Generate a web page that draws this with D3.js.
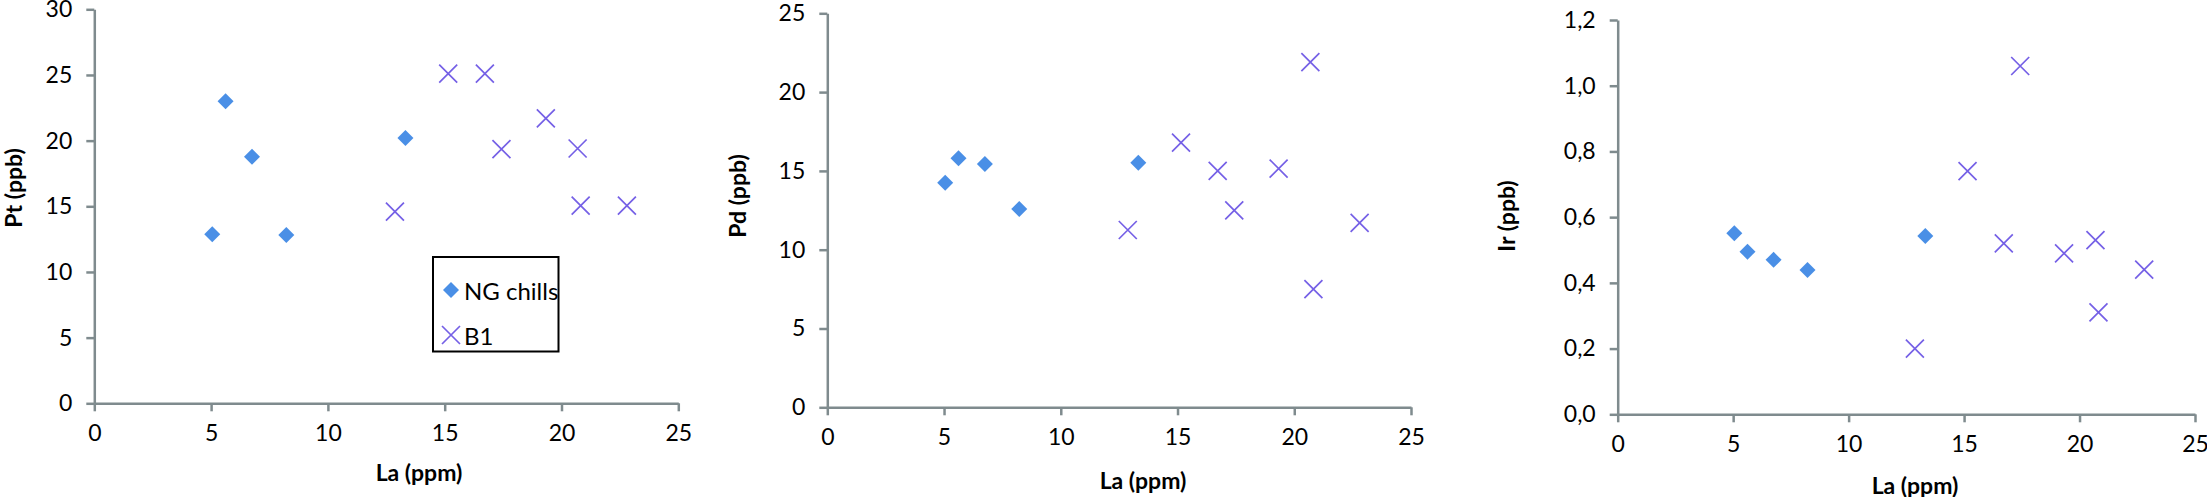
<!DOCTYPE html>
<html>
<head>
<meta charset="utf-8">
<script src="https://d3js.org/d3.v7.min.js"></script>
<style>
  body { margin: 0; background: #fff; }
  text { font-family: Lato, "Open Sans", sans-serif; fill: #000; }
</style>
</head>
<body>
<svg id="chart" width="2207" height="497"></svg>
<script>
// La (ppm) of each sample
var la_ng = [5.05, 5.62, 6.75, 8.22, 13.32];
var la_b1 = [12.87, 15.15, 16.72, 17.43, 19.33, 20.69, 20.82, 22.8];

// Pt, Pd, Ir (ppb)
var pt_ng = [12.88, 23.0, 18.78, 12.82, 20.2];
var pt_b1 = [14.6, 25.1, 25.1, 19.35, 21.7, 19.4, 15.05, 15.05];
var pd_ng = [14.25, 15.8, 15.44, 12.58, 15.52];
var pd_b1 = [11.25, 16.8, 15.0, 12.5, 15.15, 21.9, 7.5, 11.7];
var ir_ng = [0.551, 0.495, 0.47, 0.439, 0.543];
var ir_b1 = [0.2, 0.74, 0.52, 1.06, 0.49, 0.53, 0.31, 0.44];

var x_ticks = [0, 5, 10, 15, 20, 25];
var pt_ticks = [0, 5, 10, 15, 20, 25, 30];
var pd_ticks = [0, 5, 10, 15, 20, 25];
var ir_ticks = [0, 0.2, 0.4, 0.6, 0.8, 1.0, 1.2];

var series_names = ['NG chills', 'B1'];

var axis_color = '#7f8b8e';
var ng_color = '#4a8fe6';
var b1_color = '#7560e6';

var svg = d3.select('#chart');

// comma decimal like the original
var comma = d3.formatLocale({decimal: ',', thousands: '.', grouping: [3], currency: ['', '']});

// filled diamond (square turned 45deg)
var diamond = {
    draw: function(ctx, size) {
        var r = Math.sqrt(size) / 2;
        ctx.moveTo(0, -r);
        ctx.lineTo(r, 0);
        ctx.lineTo(0, r);
        ctx.lineTo(-r, 0);
        ctx.closePath();
    }
};
// thin x cross
var cross = {
    draw: function(ctx, size) {
        var r = Math.sqrt(size) / 2;
        ctx.moveTo(-r, -r);
        ctx.lineTo(r, r);
        ctx.moveTo(r, -r);
        ctx.lineTo(-r, r);
    }
};

var panels = [
    {x0: 94.3, x1: 678.3, yTop: 9.3, yBot: 403.3, ymax: 30, ticks: pt_ticks, fmt: d3.format('d'),
     ng: pt_ng, b1: pt_b1, ytitle: 'Pt (ppb)', ytx: 13, yty: 188, xtx: 419, xty: 472},
    {x0: 827.3, x1: 1411, yTop: 13.3, yBot: 407.3, ymax: 25, ticks: pd_ticks, fmt: d3.format('d'),
     ng: pd_ng, b1: pd_b1, ytitle: 'Pd (ppb)', ytx: 737, yty: 196, xtx: 1143, xty: 480},
    {x0: 1617.7, x1: 2195, yTop: 20, yBot: 414.3, ymax: 1.2, ticks: ir_ticks, fmt: comma.format('.1f'),
     ng: ir_ng, b1: ir_b1, ytitle: 'Ir (ppb)', ytx: 1506, yty: 216, xtx: 1915, xty: 485}
];

panels.forEach(function(p) {
    var x = d3.scaleLinear().domain([0, 25]).range([p.x0, p.x1]);
    var y = d3.scaleLinear().domain([0, p.ymax]).range([p.yBot, p.yTop]);
    var g = svg.append('g');

    var xAxis = g.append('g')
        .attr('transform', 'translate(0,' + p.yBot + ')')
        .call(d3.axisBottom(x).tickValues(x_ticks).tickSize(8).tickPadding(13).tickSizeOuter(0));
    var yAxis = g.append('g')
        .attr('transform', 'translate(' + p.x0 + ',0)')
        .call(d3.axisLeft(y).tickValues(p.ticks).tickFormat(p.fmt).tickSize(8).tickPadding(14).tickSizeOuter(0));

    [xAxis, yAxis].forEach(function(a) {
        a.select('.domain').attr('stroke', axis_color).attr('stroke-width', 2.5);
        a.selectAll('.tick line').attr('stroke', axis_color).attr('stroke-width', 2.5);
        a.selectAll('.tick text')
            .attr('fill', '#000')
            .style('font-family', 'Lato, sans-serif')
            .style('font-size', '23px');
    });

    // axis titles
    g.append('text')
        .attr('x', p.xtx)
        .attr('y', p.xty)
        .attr('text-anchor', 'middle')
        .attr('dominant-baseline', 'central')
        .style('font-weight', 'bold')
        .style('font-size', '23px')
        .text('La (ppm)');
    g.append('text')
        .attr('transform', 'translate(' + p.ytx + ',' + p.yty + ') rotate(-90)')
        .attr('text-anchor', 'middle')
        .attr('dominant-baseline', 'central')
        .style('font-weight', 'bold')
        .style('font-size', '23px')
        .text(p.ytitle);

    // NG chills - diamonds
    g.selectAll('.ng')
        .data(la_ng)
        .enter()
        .append('path')
        .attr('class', 'ng')
        .attr('d', d3.symbol().type(diamond).size(16 * 16))
        .attr('transform', function(d, i) {
            return 'translate(' + x(d) + ',' + y(p.ng[i]) + ')';
        })
        .attr('fill', ng_color);

    // B1 - crosses
    g.selectAll('.b1')
        .data(la_b1)
        .enter()
        .append('path')
        .attr('class', 'b1')
        .attr('d', d3.symbol().type(cross).size(18 * 18))
        .attr('transform', function(d, i) {
            return 'translate(' + x(d) + ',' + y(p.b1[i]) + ')';
        })
        .attr('fill', 'none')
        .attr('stroke', b1_color)
        .attr('stroke-width', 1.7);
});

// legend (only in first panel)
var legend = svg.append('g');
legend.append('rect')
    .attr('x', 433)
    .attr('y', 257)
    .attr('width', 125.5)
    .attr('height', 94.5)
    .attr('fill', '#fff')
    .attr('stroke', '#000')
    .attr('stroke-width', 2);

var leg_items = legend.selectAll('.leg')
    .data(series_names)
    .enter()
    .append('g')
    .attr('class', 'leg')
    .attr('transform', function(d, i) {
        return 'translate(451,' + (290 + i * 45) + ')';
    });
leg_items.append('path')
    .attr('d', function(d, i) {
        return i == 0 ? d3.symbol().type(diamond).size(16 * 16)() : d3.symbol().type(cross).size(18 * 18)();
    })
    .attr('fill', function(d, i) { return i == 0 ? ng_color : 'none'; })
    .attr('stroke', function(d, i) { return i == 0 ? 'none' : b1_color; })
    .attr('stroke-width', 1.7);
leg_items.append('text')
    .attr('x', 13)
    .attr('dominant-baseline', 'central')
    .style('font-size', '24px')
    .text(function(d) { return d; });
</script>
</body>
</html>
